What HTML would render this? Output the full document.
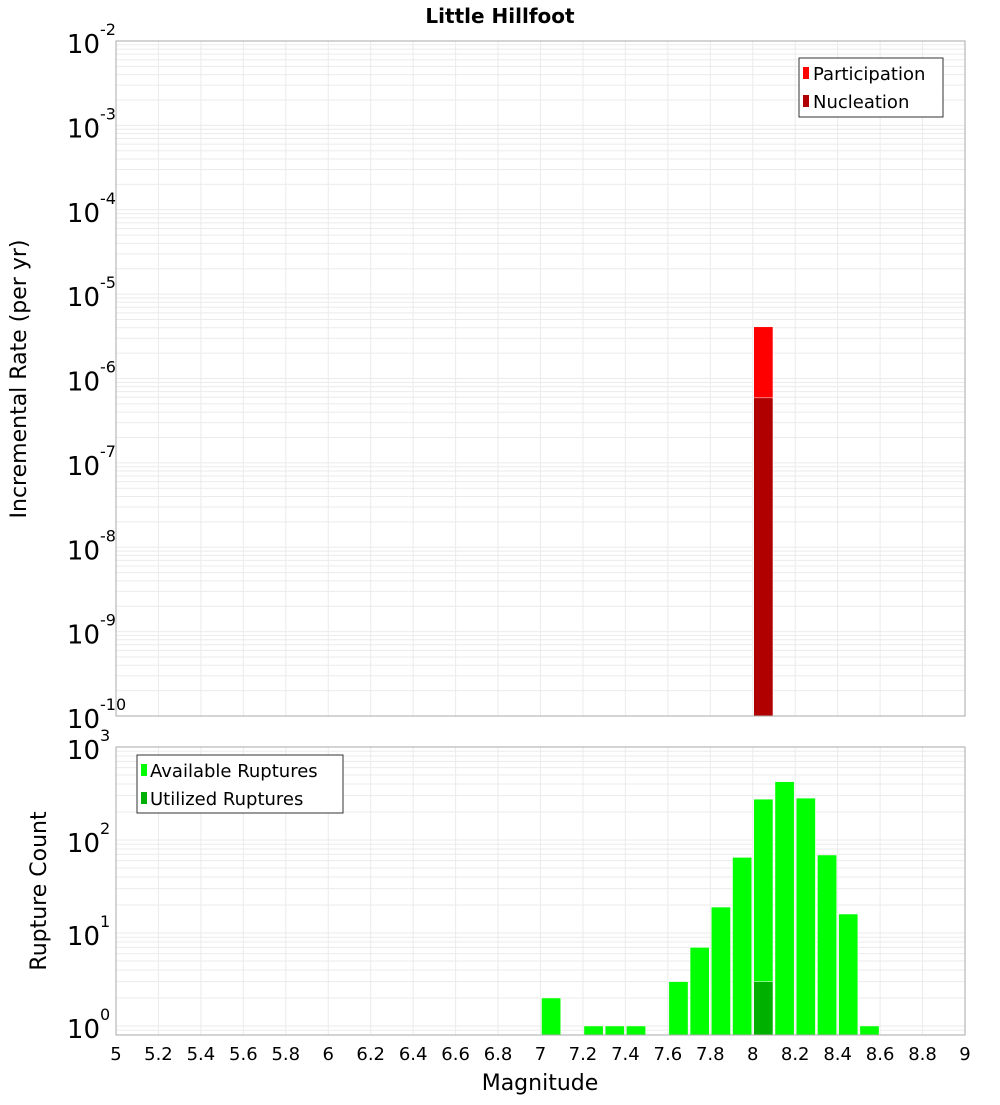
<!DOCTYPE html>
<html><head><meta charset="utf-8"><style>
body{margin:0;background:#fff}
svg text{font-family:"DejaVu Sans","Liberation Sans",sans-serif;fill:#000}
</style></head><body>
<svg id="c" width="1000" height="1100" xmlns="http://www.w3.org/2000/svg">
<text x="500" y="23" text-anchor="middle" font-size="20" font-weight="bold">Little Hillfoot</text>
<text transform="translate(26,379) rotate(-90)" text-anchor="middle" font-size="22">Incremental Rate (per yr)</text>
<text transform="translate(46,891) rotate(-90)" text-anchor="middle" font-size="22">Rupture Count</text>
<text x="540" y="1090" text-anchor="middle" font-size="22">Magnitude</text>
<g id="topPanel"></g><g id="botPanel"></g>
<g>
<rect x="799" y="58" width="144" height="59" fill="#fff" stroke="#333"/>
<rect x="803" y="67" width="6" height="12" fill="#ff0000"/>
<text x="813" y="80" font-size="18">Participation</text>
<rect x="803" y="95" width="6" height="12" fill="#b00000"/>
<text x="813" y="108" font-size="18">Nucleation</text>
</g>
<g>
<rect x="137" y="755" width="206" height="58" fill="#fff" stroke="#333"/>
<rect x="141" y="764" width="6" height="12" fill="#00ff00"/>
<text x="150" y="777" font-size="18">Available Ruptures</text>
<rect x="141" y="792" width="6" height="12" fill="#00b000"/>
<text x="150" y="805" font-size="18">Utilized Ruptures</text>
</g>
</svg>
<script>
const xTicks=["5","5.2","5.4","5.6","5.8","6","6.2","6.4","6.6","6.8","7","7.2","7.4","7.6","7.8","8","8.2","8.4","8.6","8.8","9"];
const partMags=[8.05];
const partRates=[4.1e-6];
const nuclMags=[8.05];
const nuclRates=[5.9e-7];
const availMags=[7.05,7.25,7.35,7.45,7.65,7.75,7.85,7.95,8.05,8.15,8.25,8.35,8.45,8.55];
const availCounts=[2,1,1,1,3,7,19,65,275,424,282,69,16,1];
const usedMags=[8.05];
const usedCounts=[3];
const NS="http://www.w3.org/2000/svg";
const X0=116,X1=965;
const xs=m=>X0+(m-5)/4*(X1-X0);
function mk(p,tag,a){const e=document.createElementNS(NS,tag);for(const k in a)e.setAttribute(k,a[k]);p.appendChild(e);return e;}
const gTop=document.getElementById('topPanel'),gBot=document.getElementById('botPanel');
const T0=41,T1=716,tMin=-10,tMax=-2;
const ty=v=>T1-(Math.log10(v)-tMin)/(tMax-tMin)*(T1-T0);
const B0=747,B1=1035,bMin=-0.097,bMax=3;
const by=v=>B1-(Math.log10(v)-bMin)/(bMax-bMin)*(B1-B0);
function grid(g,y0,y1,lo,hi,yf){
  for(let i=0;i<=20;i++){const l=mk(g,'line',{x1:xs(5+i*0.2),x2:xs(5+i*0.2),y1:y0,y2:y1,stroke:'#ebebeb'});
    
    }
  for(let d=Math.floor(lo);d<hi;d++)for(let k=1;k<10;k++){const v=k*Math.pow(10,d);if(Math.log10(v)<lo)continue;const y=yf(v);
    const l=mk(g,'line',{x1:X0,x2:X1,y1:y,y2:y,stroke:'#ebebeb'});
    
    }
}
grid(gTop,T0,T1,tMin,tMax,ty);
grid(gBot,B0,B1,bMin,bMax,by);
function bars(g,mags,vals,yf,base,fill,name){
  mags.forEach((m,i)=>{const y=yf(vals[i]);
    const r=mk(g,'rect',{x:xs(m-0.05)+1,y:y,width:xs(m+0.05)-xs(m-0.05)-2,height:base-y,fill:fill,stroke:'#fff','stroke-width':0.5});
    
    });
}
bars(gTop,partMags,partRates,ty,T1,'#ff0000','participation-bar');
bars(gTop,nuclMags,nuclRates,ty,T1,'#b00000','nucleation-bar');
bars(gBot,availMags,availCounts,by,B1,'#00ff00','available-bar');
bars(gBot,usedMags,usedCounts,by,B1,'#00b000','utilized-bar');
mk(gTop,'rect',{x:X0,y:T0,width:X1-X0,height:T1-T0,fill:'none',stroke:'#aaa'});
mk(gBot,'rect',{x:X0,y:B0,width:X1-X0,height:B1-B0,fill:'none',stroke:'#aaa'});
function ylab(g,e,y){const t=mk(g,'text',{x:100,y:y+12,'text-anchor':'end','font-size':26});t.textContent='10';
  
  
  const s=mk(g,'text',{x:100,y:y-6,'font-size':16});s.textContent=e;
  
  }
for(let e=tMin;e<=tMax;e++)ylab(gTop,String(e),ty(Math.pow(10,e)));
for(let e=0;e<=3;e++)ylab(gBot,String(e),by(Math.pow(10,e)));
xTicks.forEach(t=>{const el=mk(gBot,'text',{x:xs(parseFloat(t)),y:1060,'text-anchor':'middle','font-size':18});el.textContent=t;
  
  });
</script>
</body></html>
